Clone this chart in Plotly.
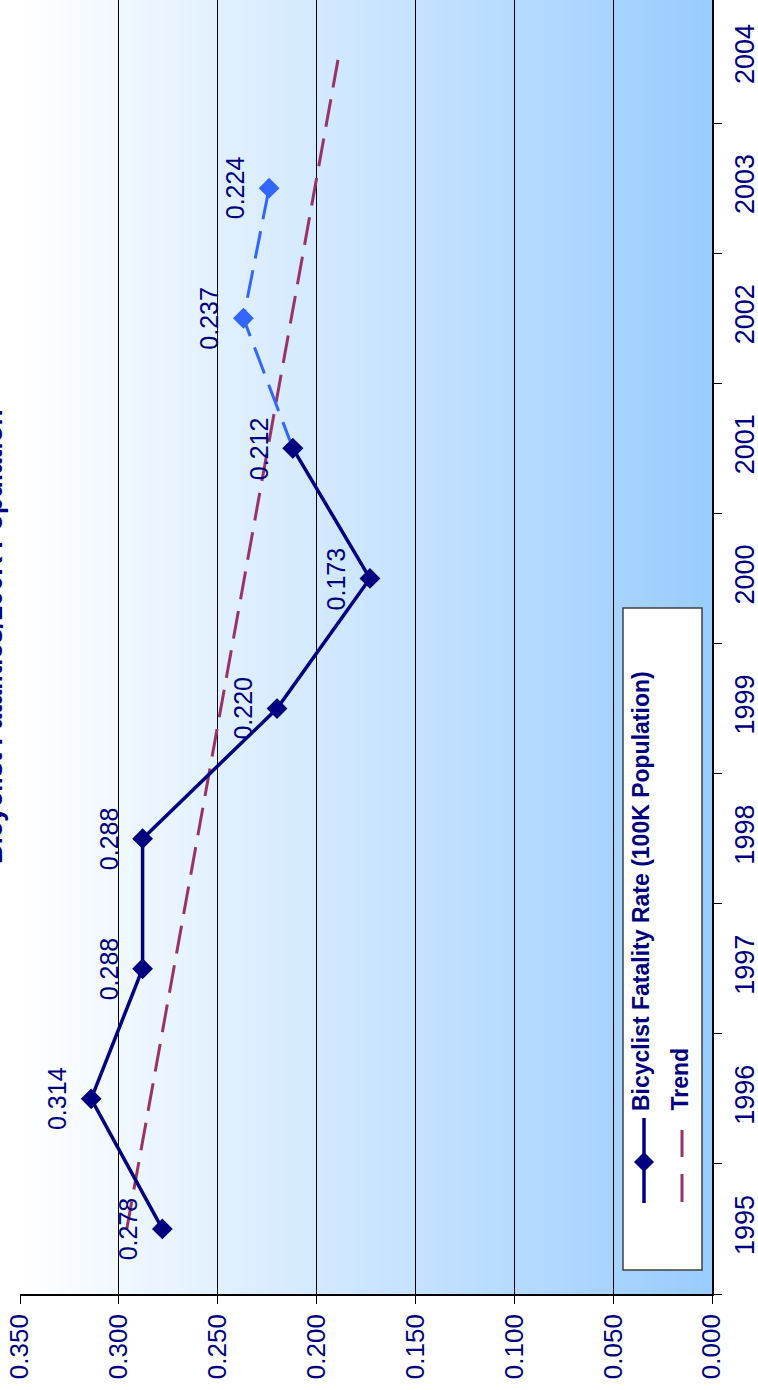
import plotly.graph_objects as go

# ---------------- data ----------------
years = [1995, 1996, 1997, 1998, 1999, 2000, 2001]
rates = [0.278, 0.314, 0.288, 0.288, 0.220, 0.173, 0.212]

proj_years = [2001, 2002, 2003]
proj_rates = [0.212, 0.237, 0.224]

trend_years = [1995, 2004]
trend_rates = [0.296, 0.189]

year_ticks = [1995, 1996, 1997, 1998, 1999, 2000, 2001, 2002, 2003, 2004]
value_ticks = [0.000, 0.050, 0.100, 0.150, 0.200, 0.250, 0.300, 0.350]

title_text = "Bicyclist Fatalities/100K Population"
series_name = "Bicyclist Fatality Rate (100K Population)"
trend_name = "Trend"

# ---------------- styles ----------------
NAVY = "#000080"
BLUE = "#3366FF"
MAROON = "#993366"
FONT = "Liberation Sans, Arial, sans-serif"

W, H = 758, 1390
ML, MR, MT, MB = 20, 46, 0, 96
PW, PH = W - ML - MR, H - MT - MB


def px(x):
    return (x - ML) / PW


def py(y):
    return (H - MB - y) / PH


fig = go.Figure()

fig.add_trace(go.Scatter(
    x=trend_rates, y=trend_years, mode="lines",
    line=dict(color=MAROON, width=3, dash="28px,12px"),
    showlegend=False, hoverinfo="skip"))

fig.add_trace(go.Scatter(
    x=proj_rates, y=proj_years, mode="lines+markers",
    line=dict(color=BLUE, width=3, dash="28px,12px"),
    marker=dict(symbol="diamond", size=16, color=BLUE),
    showlegend=False))

fig.add_trace(go.Scatter(
    x=rates, y=years, mode="lines+markers",
    line=dict(color=NAVY, width=3.5),
    marker=dict(symbol="diamond", size=16, color=NAVY),
    showlegend=False))

shapes = []
# gradient background (white at 0.35 -> light blue at 0), overlapping strips
N = 140
x_lo, x_hi = value_ticks[0], value_ticks[-1]
step = (x_hi - x_lo) / N
for i in range(N):
    a = x_hi - step * i
    b = max(x_lo, x_hi - step * (i + 1.8))
    t = (i + 0.5) / N
    r = round(255 + (153 - 255) * t)
    g = round(255 + (204 - 255) * t)
    shapes.append(dict(type="rect", xref="x", yref="paper", x0=a, x1=b,
                       y0=0, y1=1, fillcolor=f"rgb({r},{g},255)",
                       line=dict(width=0), layer="below"))

# legend box
shapes.append(dict(type="rect", xref="paper", yref="paper",
                   x0=px(623), x1=px(702), y0=py(1270), y1=py(608),
                   fillcolor="white", line=dict(color="#404040", width=1.5),
                   layer="above"))
# legend symbol: navy line + diamond
shapes.append(dict(type="line", xref="paper", yref="paper",
                   x0=px(644), x1=px(644), y0=py(1203), y1=py(1118),
                   line=dict(color=NAVY, width=3.5), layer="above"))
cx, cy, d = 644, 1162, 10
shapes.append(dict(type="path", xref="paper", yref="paper",
                   path=(f"M {px(cx)},{py(cy - d)} L {px(cx + d)},{py(cy)} "
                         f"L {px(cx)},{py(cy + d)} L {px(cx - d)},{py(cy)} Z"),
                   fillcolor=NAVY, line=dict(width=0), layer="above"))
# legend symbol: trend dashes
for y0, y1 in [(1130, 1157), (1174, 1202)]:
    shapes.append(dict(type="line", xref="paper", yref="paper",
                       x0=px(682), x1=px(682), y0=py(y1), y1=py(y0),
                       line=dict(color=MAROON, width=3), layer="above"))

annotations = []
# data labels
for v, yr in zip(rates + proj_rates[1:], years + proj_years[1:]):
    annotations.append(dict(x=v, y=yr, xref="x", yref="y", text=f"{v:.3f}",
                            showarrow=False, textangle=-90, xshift=-34,
                            font=dict(family=FONT, size=25, color=NAVY)))
# legend texts
annotations.append(dict(x=px(641), y=py(1113), xref="paper", yref="paper",
                        text=f"<b>{series_name}</b>", showarrow=False,
                        textangle=-90, xanchor="center", yanchor="bottom",
                        font=dict(family=FONT, size=23, color=NAVY)))
annotations.append(dict(x=px(679), y=py(1113), xref="paper", yref="paper",
                        text=f"<b>{trend_name}</b>", showarrow=False,
                        textangle=-90, xanchor="center", yanchor="bottom",
                        font=dict(family=FONT, size=23, color=NAVY)))
# title (rotated, partly off the left edge)
annotations.append(dict(x=px(-7), y=py(637), xref="paper", yref="paper",
                        text=f"<b>{title_text}</b>", showarrow=False,
                        textangle=-90, xanchor="center", yanchor="middle",
                        font=dict(family=FONT, size=27, color=NAVY)))

fig.update_layout(
    width=W, height=H,
    margin=dict(l=ML, r=MR, t=MT, b=MB, pad=0, autoexpand=False),
    paper_bgcolor="white", plot_bgcolor="white",
    font=dict(family=FONT, color=NAVY),
    shapes=shapes, annotations=annotations,
    showlegend=False,
    xaxis=dict(
        range=[0.35, 0.0], tickvals=value_ticks,
        ticktext=[f"{v:.3f}" for v in value_ticks],
        tickangle=-90, tickfont=dict(family=FONT, size=26, color=NAVY),
        ticks="outside", ticklen=8, tickcolor="black", tickwidth=1,
        showgrid=True, gridcolor="black", gridwidth=1,
        showline=True, linecolor="black", linewidth=1.5,
        zeroline=False, side="bottom", automargin=False,
    ),
    yaxis=dict(
        range=[1994.5, 2004.446], tickvals=year_ticks,
        ticktext=[str(y) for y in year_ticks],
        tickangle=-90, tickfont=dict(family=FONT, size=27, color=NAVY),
        ticks="outside", ticklen=8, tickcolor="rgba(0,0,0,0)",
        ticklabelstandoff=0,
        minor=dict(tickmode="array",
                   tickvals=[y - 0.5 for y in year_ticks] + [year_ticks[-1] + 0.5],
                   ticks="outside", ticklen=8, tickcolor="black", tickwidth=1,
                   showgrid=False),
        showgrid=False, showline=True, linecolor="black", linewidth=1.5,
        zeroline=False, side="right", automargin=False,
    ),
)

fig.write_html(
    "out.html",
    config={"displayModeBar": False},
    post_script="document.body.style.margin='0px';document.body.style.overflow='hidden';",
)
